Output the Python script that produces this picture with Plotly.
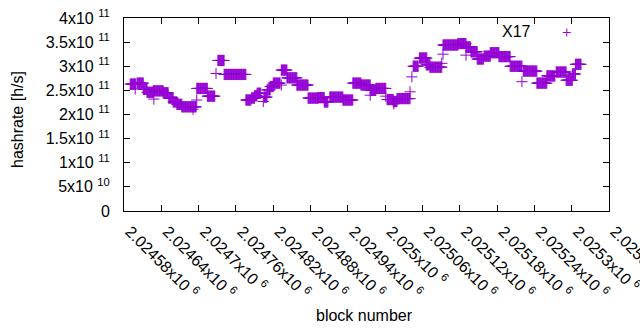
import plotly.graph_objects as go

# Runs of consecutive blocks sharing the same hashrate (block start, block end, hashrate)
seg_start = [2024590, 2024601, 2024611, 2024617, 2024627, 2024643, 2024652, 2024659, 2024665, 2024673,
             2024697, 2024714, 2024731, 2024741, 2024776, 2024785, 2024790, 2024794, 2024805, 2024810,
             2024815, 2024820, 2024833, 2024842, 2024858, 2024876, 2024892, 2024902, 2024911, 2024932,
             2024948, 2024961, 2024976, 2024985, 2025003, 2025013, 2025019, 2025045, 2025055, 2025066,
             2025072, 2025093, 2025117, 2025130, 2025138, 2025148, 2025159, 2025169, 2025183, 2025201,
             2025222, 2025244, 2025260, 2025275, 2025291, 2025301, 2025306]
seg_end = [2024599, 2024611, 2024617, 2024627, 2024643, 2024651, 2024659, 2024665, 2024673, 2024696,
           2024714, 2024726, 2024741, 2024776, 2024784, 2024790, 2024794, 2024800, 2024810, 2024815,
           2024820, 2024831, 2024842, 2024858, 2024876, 2024892, 2024902, 2024908, 2024932, 2024948,
           2024961, 2024976, 2024985, 2025001, 2025013, 2025019, 2025040, 2025053, 2025067, 2025072,
           2025091, 2025117, 2025130, 2025137, 2025148, 2025158, 2025169, 2025183, 2025201, 2025220,
           2025244, 2025260, 2025273, 2025291, 2025301, 2025306, 2025315]
seg_value = [2.63e11, 2.65e11, 2.52e11, 2.46e11, 2.49e11, 2.45e11, 2.34e11, 2.26e11, 2.21e11, 2.16e11,
             2.54e11, 2.38e11, 3.12e11, 2.83e11, 2.30e11, 2.34e11, 2.39e11, 2.44e11, 2.36e11, 2.51e11,
             2.58e11, 2.65e11, 2.92e11, 2.76e11, 2.61e11, 2.34e11, 2.35e11, 2.26e11, 2.36e11, 2.30e11,
             2.65e11, 2.61e11, 2.50e11, 2.54e11, 2.31e11, 2.27e11, 2.33e11, 3.00e11, 3.17e11, 3.03e11,
             2.98e11, 3.44e11, 3.47e11, 3.40e11, 3.30e11, 3.15e11, 3.21e11, 3.28e11, 3.20e11, 3.00e11,
             2.90e11, 2.65e11, 2.80e11, 2.88e11, 2.71e11, 2.84e11, 3.04e11]

# Isolated samples
iso_block = [2024598, 2024628, 2024691, 2024697, 2024728, 2024804, 2024833, 2024976, 2025001, 2025014,
             2025040, 2025043, 2025091, 2025093, 2025130, 2025220]
iso_value = [2.53e11, 2.32e11, 2.11e11, 2.30e11, 2.85e11, 2.27e11, 2.61e11, 2.40e11, 2.38e11, 2.22e11,
             2.47e11, 2.78e11, 3.06e11, 3.25e11, 3.23e11, 2.68e11]

x_tickvals = [2024580, 2024640, 2024700, 2024760, 2024820, 2024880, 2024940,
              2025000, 2025060, 2025120, 2025180, 2025240, 2025300, 2025360]
x_ticklabels = ["2.02458", "2.02464", "2.0247", "2.02476", "2.02482", "2.02488", "2.02494",
                "2.025", "2.02506", "2.02512", "2.02518", "2.02524", "2.0253", "2.02536"]
y_tickvals = [0, 0.5e11, 1e11, 1.5e11, 2e11, 2.5e11, 3e11, 3.5e11, 4e11]
y_ticklabels = ["0", "5x10 <sup>10</sup>", "1x10 <sup>11</sup>", "1.5x10 <sup>11</sup>", "2x10 <sup>11</sup>",
                "2.5x10 <sup>11</sup>", "3x10 <sup>11</sup>", "3.5x10 <sup>11</sup>", "4x10 <sup>11</sup>"]

series_name = "X17"
color = "#9400d3"

xs, ys = [], []
for s, e, v in zip(seg_start, seg_end, seg_value):
    for b in range(s, e + 1):
        xs.append(b)
        ys.append(v)
xs += iso_block
ys += iso_value

fig = go.Figure()
fig.add_trace(go.Scatter(
    x=xs, y=ys, mode="markers", name=series_name, showlegend=False,
    marker=dict(symbol="cross-thin", size=8, color=color, line=dict(color=color, width=1)),
))

FONT = "Liberation Sans, Arial, sans-serif"

fig.update_layout(
    width=640, height=330,
    margin=dict(l=124, r=31, t=18, b=119),
    paper_bgcolor="white", plot_bgcolor="white",
    font=dict(family=FONT, size=16, color="black"),
    xaxis=dict(
        range=[2024580, 2025360], tickmode="array", tickvals=x_tickvals,
        ticktext=[t + "x10 <sup>6</sup>" for t in x_ticklabels],
        tickangle=45, ticks="inside", ticklen=6, tickcolor="black",
        showline=True, linecolor="black", linewidth=1, mirror="ticks",
        showgrid=False, zeroline=False, automargin=False, ticklabelstandoff=4,
        ticklabelshift=6, ticklabeloverflow="allow",
    ),
    yaxis=dict(
        range=[0, 4e11], tickmode="array", tickvals=y_tickvals, ticktext=y_ticklabels,
        ticks="inside", ticklen=6, tickcolor="black",
        showline=True, linecolor="black", linewidth=1, mirror="ticks",
        showgrid=False, zeroline=False, automargin=False, ticklabelstandoff=10,
    ),
    annotations=[
        dict(text="hashrate [h/s]", xref="paper", yref="paper", x=-0.2206, y=0.4715,
             xanchor="center", yanchor="middle",
             textangle=-90, showarrow=False, font=dict(size=16)),
        dict(text="block number", xref="paper", yref="paper", x=0.495, y=-0.539,
             xanchor="center", yanchor="middle",
             showarrow=False, font=dict(size=16)),
        dict(text=series_name, xref="paper", yref="paper", x=0.843, y=0.928,
             xanchor="right", yanchor="middle", showarrow=False, font=dict(size=16)),
    ],
    shapes=[
        dict(type="line", xref="paper", yref="paper", xsizemode="pixel", ysizemode="pixel",
             xanchor=0.913, yanchor=0.925, x0=-4, x1=4, y0=0, y1=0, line=dict(color=color, width=1)),
        dict(type="line", xref="paper", yref="paper", xsizemode="pixel", ysizemode="pixel",
             xanchor=0.913, yanchor=0.925, x0=0, x1=0, y0=-4, y1=4, line=dict(color=color, width=1)),
    ],
)

fig.write_html(
    "out.html",
    config={"displayModeBar": False},
    post_script="document.body.style.margin='0';document.body.style.padding='0';document.body.style.overflow='hidden';",
)
